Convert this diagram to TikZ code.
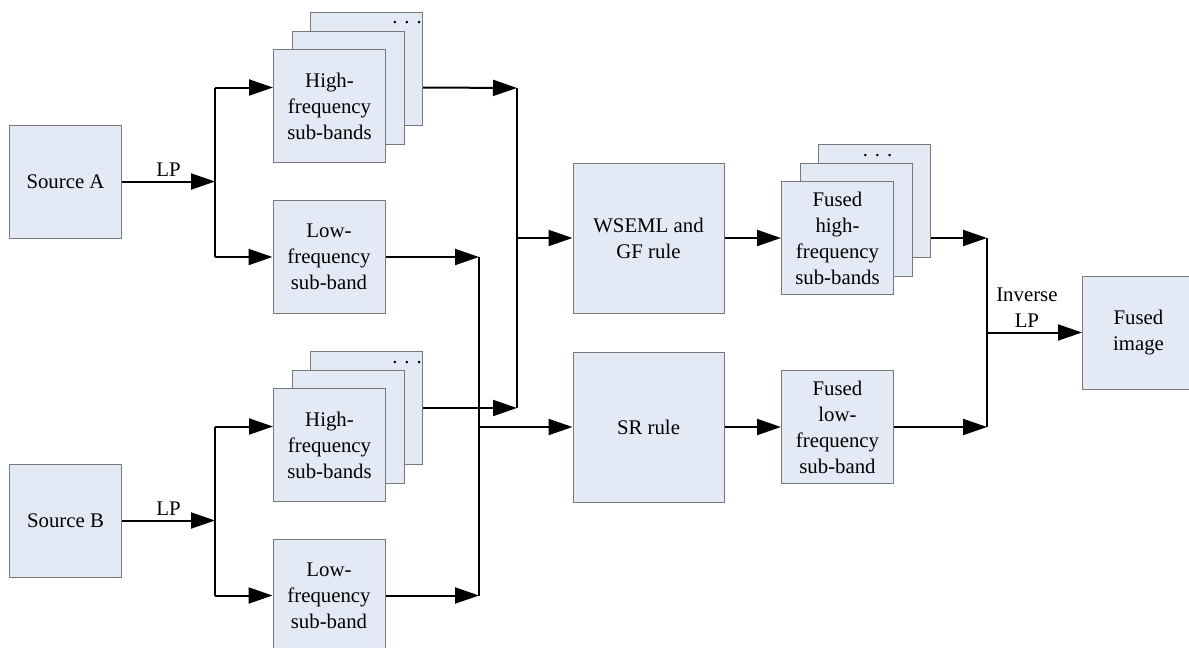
\documentclass[tikz,border=0pt]{standalone}
\usepackage{fontspec}
\setmainfont{Liberation Serif}
\usetikzlibrary{arrows.meta, positioning}
\definecolor{boxfill}{RGB}{227,234,245}
\definecolor{boxline}{RGB}{120,120,120}

\begin{document}
\begin{tikzpicture}[
  x=0.5pt, y=-0.5pt,
  box/.style={
    draw=boxline,
    fill=boxfill,
    line width=0.5pt,
    align=center,
    font=\fontsize{10.4}{13}\selectfont,
    minimum width=56pt,
    minimum height=56.5pt,
    inner sep=0pt
  },
  rulebox/.style={box, minimum width=75.5pt, minimum height=75pt},
  arr/.style={-{Triangle[length=12pt, width=8pt]}, line width=1pt},
  bus/.style={line width=1pt},
  lbl/.style={font=\fontsize{10.4}{13}\selectfont, align=center, inner sep=2pt},
  ellip/.style={font=\fontsize{10.4}{13}\selectfont, inner sep=0pt, anchor=base},
  node distance=9.25pt and 9.25pt
]

\useasboundingbox (0,0) rectangle (1189,648);

% Sources
\node[box] (srcA) at (65.5,181.5) {Source A};
\node[box] (srcB) at (65.5,520.5) {Source B};

% Sub-bands of source A
\node[box] (hiA3) at (366.5,69) {};
\node[box, on grid, below left=of hiA3] (hiA2) {};
\node[box, on grid, below left=of hiA2] (hiA) {High-\\frequency\\sub-bands};
\node[ellip] at ([xshift=-8pt, yshift=-6pt]hiA3.north east) {.\,\,.\,\,.};
\node[box] (loA) at (329,257) {Low-\\frequency\\sub-band};

% Sub-bands of source B
\node[box] (hiB3) at (366.5,408) {};
\node[box, on grid, below left=of hiB3] (hiB2) {};
\node[box, on grid, below left=of hiB2] (hiB) {High-\\frequency\\sub-bands};
\node[ellip] at ([xshift=-8pt, yshift=-6pt]hiB3.north east) {.\,\,.\,\,.};
\node[box] (loB) at (329,595.5) {Low-\\frequency\\sub-band};

% Fusion rules
\node[rulebox] (wgf) at (648.5,238) {WSEML and\\GF rule};
\node[rulebox] (sr) at (648.5,427) {SR rule};

% Fused sub-bands
\node[box] (fhi3) at (874.5,201) {};
\node[box, on grid, below left=of fhi3] (fhi2) {};
\node[box, on grid, below left=of fhi2] (fhi) {Fused\\high-\\frequency\\sub-bands};
\node[ellip] at ([xshift=1.5pt, yshift=-6pt]fhi3.north) {.\,\,.\,\,.};
\node[box] (flo) at (837.5,427) {Fused\\low-\\frequency\\sub-band};

\node[box] (fimg) at (1138.5,332.5) {Fused\\image};

% LP decomposition
\coordinate (splitA) at (215,181.5);
\coordinate (splitB) at (215,520.5);
\draw[arr] (srcA) -- (splitA) node[lbl, midway, above] {LP};
\draw[bus] (splitA |- hiA2) -- (splitA |- loA);
\draw[arr] (splitA |- hiA2) -- (hiA.west |- hiA2);
\draw[arr] (splitA |- loA) -- (loA);
\draw[arr] (srcB) -- (splitB) node[lbl, midway, above] {LP};
\draw[bus] (splitB |- hiB2) -- (splitB |- loB);
\draw[arr] (splitB |- hiB2) -- (hiB.west |- hiB2);
\draw[arr] (splitB |- loB) -- (loB);

% Collecting the sub-bands
\coordinate (busH) at (517,88);
\coordinate (busL) at (479,257);
\draw[arr] (hiA3.east |- hiA2) -- (busH);
\draw[arr] (loA) -- (busL);
\draw[arr] (hiB3) -- (busH |- hiB3);
\draw[arr] (loB) -- (busL |- loB);
\draw[bus] (busH) -- (busH |- hiB3);
\draw[bus] (busL) -- (busL |- loB);
\draw[arr] (busH |- wgf) -- (wgf);
\draw[arr] (busL |- sr) -- (sr);

% Fusion
\draw[arr] (wgf) -- (fhi);
\draw[arr] (sr) -- (flo);

% Inverse LP
\coordinate (busF) at (987,238);
\draw[arr] (fhi3.east |- fhi) -- (busF);
\draw[arr] (flo) -- (busF |- flo);
\draw[bus] (busF) -- (busF |- flo);
\draw[arr] (busF |- fimg) -- (fimg) node[lbl, pos=0.42, above] {Inverse\\LP};

\end{tikzpicture}
\end{document}
